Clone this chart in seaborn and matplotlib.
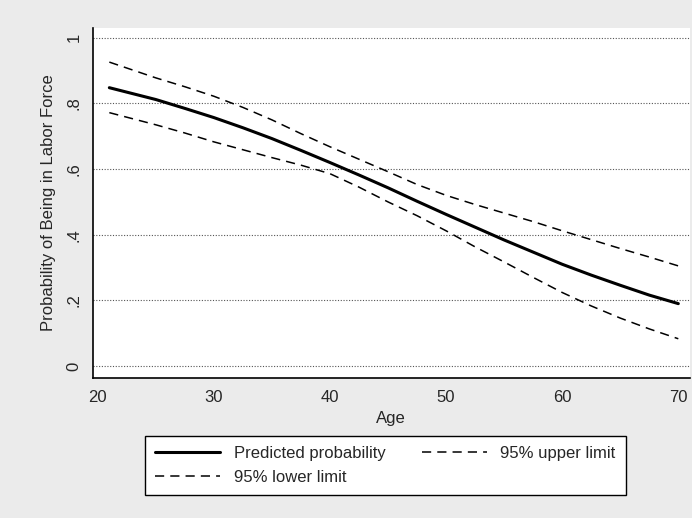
import matplotlib
matplotlib.use("Agg")
import matplotlib.pyplot as plt
import seaborn as sns
import pandas as pd

ages = [21, 25, 27.5, 30, 32.5, 35, 37.5, 40, 42.5, 45, 47.5, 50,
        52.5, 55, 57.5, 60, 62.5, 65, 67.5, 70]
predicted = [0.848, 0.812, 0.785, 0.757, 0.726, 0.693, 0.657, 0.620, 0.582,
             0.543, 0.502, 0.462, 0.423, 0.384, 0.347, 0.310, 0.277, 0.246,
             0.216, 0.190]
upper = [0.926, 0.878, 0.851, 0.822, 0.788, 0.750, 0.708, 0.668, 0.630,
         0.592, 0.553, 0.520, 0.492, 0.466, 0.440, 0.412, 0.385, 0.358,
         0.332, 0.305]
lower = [0.772, 0.735, 0.710, 0.683, 0.659, 0.635, 0.612, 0.586, 0.545,
         0.500, 0.458, 0.412, 0.363, 0.317, 0.270, 0.224, 0.183, 0.146,
         0.113, 0.083]

x_ticks = [20, 30, 40, 50, 60, 70]
y_ticks = [0, 0.2, 0.4, 0.6, 0.8, 1.0]
y_ticklabels = ["0", ".2", ".4", ".6", ".8", "1"]

sns.set_style("white")
plt.rcParams["font.family"] = ["Liberation Sans", "DejaVu Sans"]

df = pd.DataFrame({"Age": ages, "pred": predicted, "up": upper, "lo": lower})

fig = plt.figure(figsize=(6.92, 5.18), dpi=100)
fig.patch.set_facecolor("#ebebeb")
ax = fig.add_axes([0.134, 0.270, 0.863, 0.676])
ax.set_facecolor("white")

for yt in y_ticks:
    ax.axhline(yt, color="#555555", lw=0.8, ls=(0, (1, 1.5)), zorder=0)

sns.lineplot(data=df, x="Age", y="pred", ax=ax, color="black", lw=2.2,
             label="Predicted probability")
sns.lineplot(data=df, x="Age", y="lo", ax=ax, color="black", lw=1.1,
             label="95% lower limit")
sns.lineplot(data=df, x="Age", y="up", ax=ax, color="black", lw=1.1,
             label="95% upper limit")
for ln in ax.get_lines()[-2:]:
    ln.set_dashes((6, 4))

ax.set_xlim(19.57, 71.0)
ax.set_ylim(-0.037, 1.03)
ax.set_xticks(x_ticks)
ax.set_xticklabels([str(t) for t in x_ticks], fontsize=12)
ax.set_yticks(y_ticks)
ax.set_yticklabels(y_ticklabels, fontsize=12, rotation=90, va="center")
ax.tick_params(axis="both", direction="out", length=5, width=1, color="black")
ax.tick_params(axis="y", pad=3)

for s in ["top", "right"]:
    ax.spines[s].set_visible(False)
for s in ["left", "bottom"]:
    ax.spines[s].set_color("black")
    ax.spines[s].set_linewidth(1.2)

ax.set_xlabel("Age", fontsize=12, labelpad=4)
ax.set_ylabel("Probability of Being in Labor Force", fontsize=12, labelpad=8)

handles, labels = ax.get_legend_handles_labels()
ax.get_legend().remove()
for h in handles[1:]:
    h.set_dashes((6, 4))
leg = fig.legend(handles, labels,
                 ncol=2, loc="center", bbox_to_anchor=(0.557, 0.102),
                 fontsize=12, handlelength=3.9, frameon=True, fancybox=False,
                 edgecolor="black", framealpha=1, borderpad=0.6,
                 columnspacing=2.2, labelspacing=0.55, handletextpad=0.8)
leg.get_frame().set_linewidth(1.0)

fig.savefig("out.png", dpi=100)
